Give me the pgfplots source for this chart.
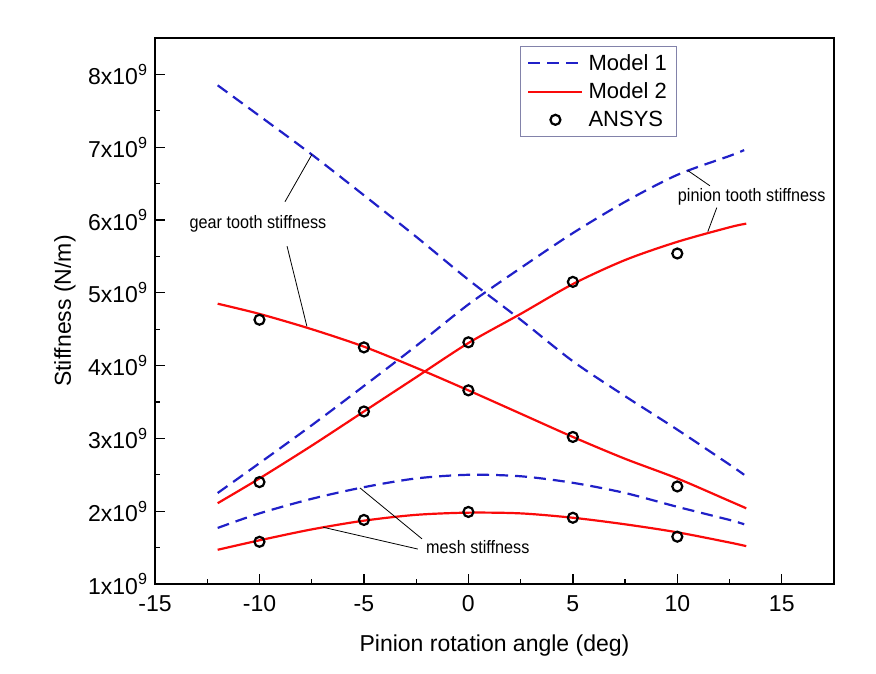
\documentclass[border=0pt]{standalone}
\usepackage{fontspec}
\setmainfont{Liberation Sans}
\usepackage{pgfplots}
\pgfplotsset{compat=1.18}
\definecolor{mblue}{RGB}{32,32,200}
\definecolor{mred}{RGB}{250,10,10}
\definecolor{legframe}{RGB}{130,130,170}
\pgfplotsset{
  linelegend/.style={legend image code/.code={\draw[##1] (0pt,0pt) -- (54pt,0pt);}},
  marklegend/.style={legend image code/.code={\draw[##1] plot coordinates {(27pt,0pt)};}},
}
\newcommand{\callout}[1]{\scalebox{0.9}[1]{\fontsize{18}{20}\selectfont #1}}

\begin{document}
\begin{tikzpicture}[x=1pt,y=1pt]
\begin{axis}[
  at={(155pt,89pt)}, anchor=south west,
  scale only axis, width=679pt, height=546pt,
  xmin=-15, xmax=17.5, ymin=1, ymax=8.5,
  xtick={-15,-10,-5,0,5,10,15},
  xticklabels={-15,-10,-5,0,5,10,15},
  ytick={1,2,3,4,5,6,7,8},
  yticklabels={1x10\textsuperscript{9},2x10\textsuperscript{9},3x10\textsuperscript{9},4x10\textsuperscript{9},5x10\textsuperscript{9},6x10\textsuperscript{9},7x10\textsuperscript{9},8x10\textsuperscript{9}},
  minor x tick num=1, minor y tick num=1,
  xtick pos=bottom, ytick pos=left,
  tick align=inside,
  major tick length=10pt, minor tick length=5pt,
  every tick/.style={black, line width=1.3pt},
  axis line style={line width=1.6pt},
  tick label style={font=\fontsize{23}{26}\selectfont},
  xticklabel style={yshift=-8pt},
  yticklabel style={xshift=-4pt},
  xlabel={Pinion rotation angle (deg)},
  ylabel={Stiffness (N/m)},
  label style={font=\fontsize{23}{26}\selectfont},
  xlabel style={at={(axis description cs:0.5,-0.112)}, anchor=center},
  ylabel style={at={(axis description cs:-0.1325,0.5)}, anchor=center},
  legend style={at={(0.5376,0.985)}, anchor=north west, draw=legframe,
    line width=0.6pt, font=\fontsize{22}{26}\selectfont,
    inner xsep=7pt, inner ysep=6pt, row sep=7pt, column sep=3pt},
  legend cell align=left,
]
% Model 1 (dashed): gear tooth, pinion tooth and mesh stiffness
\addplot[mblue, line width=2.2pt, dash pattern=on 12pt off 7pt, smooth, linelegend]
  coordinates {(-12,7.85) (-10,7.43) (-7.5,6.90) (-5,6.34) (-2.5,5.77) (0,5.18)
    (2.5,4.63) (5,4.06) (7.5,3.58) (10,3.12) (12.5,2.64) (13.2,2.50)};
\addlegendentry{Model 1}
\addplot[mblue, line width=2.2pt, dash pattern=on 12pt off 7pt, smooth, forget plot]
  coordinates {(-12,2.25) (-10,2.66) (-7.5,3.18) (-5,3.72) (-2.5,4.27) (0,4.84)
    (2.5,5.34) (5,5.82) (7.5,6.25) (10,6.62) (12.5,6.88) (13.2,6.96)};
\addplot[mblue, line width=2.2pt, dash pattern=on 12pt off 7pt, smooth, forget plot]
  coordinates {(-12,1.77) (-10,1.97) (-7.5,2.17) (-5,2.33) (-2.5,2.45) (0,2.50)
    (2.5,2.48) (5,2.39) (7.5,2.25) (10,2.06) (12.5,1.88) (13.2,1.82)};
% Model 2 (solid)
\addplot[mred, line width=2.2pt, smooth, linelegend]
  coordinates {(-12,4.85) (-10,4.71) (-7.5,4.50) (-5,4.26) (-2.5,3.97) (0,3.66)
    (2.5,3.34) (5,3.02) (7.5,2.72) (10,2.45) (12.5,2.14) (13.3,2.04)};
\addlegendentry{Model 2}
\addplot[mred, line width=2.2pt, smooth, forget plot]
  coordinates {(-12,2.11) (-10,2.45) (-7.5,2.90) (-5,3.37) (-2.5,3.84) (0,4.31)
    (2.5,4.71) (5,5.12) (7.5,5.45) (10,5.70) (12.5,5.90) (13.3,5.95)};
\addplot[mred, line width=2.2pt, smooth, forget plot]
  coordinates {(-12,1.47) (-10,1.60) (-7.5,1.75) (-5,1.87) (-2.5,1.95) (0,1.98)
    (2.5,1.97) (5,1.91) (7.5,1.82) (10,1.71) (12.5,1.57) (13.3,1.52)};
% ANSYS results
\addplot[only marks, mark=o, mark size=5pt, black, line width=2.2pt, marklegend]
  coordinates {(-10,4.63) (-5,4.25) (0,4.32) (5,5.15) (10,5.54)
    (-10,2.40) (-5,3.37) (0,3.66) (5,3.02) (10,2.34)
    (-10,1.58) (-5,1.88) (0,1.99) (5,1.91) (10,1.65)};
\addlegendentry{ANSYS}
% callouts
\draw[line width=0.8pt] (axis cs:-8.78,6.25) -- (axis cs:-7.49,6.90);
\draw[line width=0.8pt] (axis cs:-8.68,5.64) -- (axis cs:-7.73,4.54);
\node at (axis cs:-10.07,5.95) {\callout{gear tooth stiffness}};
\draw[line width=0.8pt] (axis cs:11.56,6.47) -- (axis cs:10.5,6.68);
\draw[line width=0.8pt] (axis cs:11.89,6.17) -- (axis cs:11.46,5.84);
\node at (axis cs:13.56,6.32) {\callout{pinion tooth stiffness}};
\draw[line width=0.8pt] (axis cs:-2.22,1.62) -- (axis cs:-5.19,2.32);
\draw[line width=0.8pt] (axis cs:-2.42,1.48) -- (axis cs:-6.96,1.78);
\node at (axis cs:0.45,1.51) {\callout{mesh stiffness}};
\end{axis}
\pgfresetboundingbox
\path[use as bounding box] (0,0) rectangle (876,673);
\end{tikzpicture}
\end{document}
